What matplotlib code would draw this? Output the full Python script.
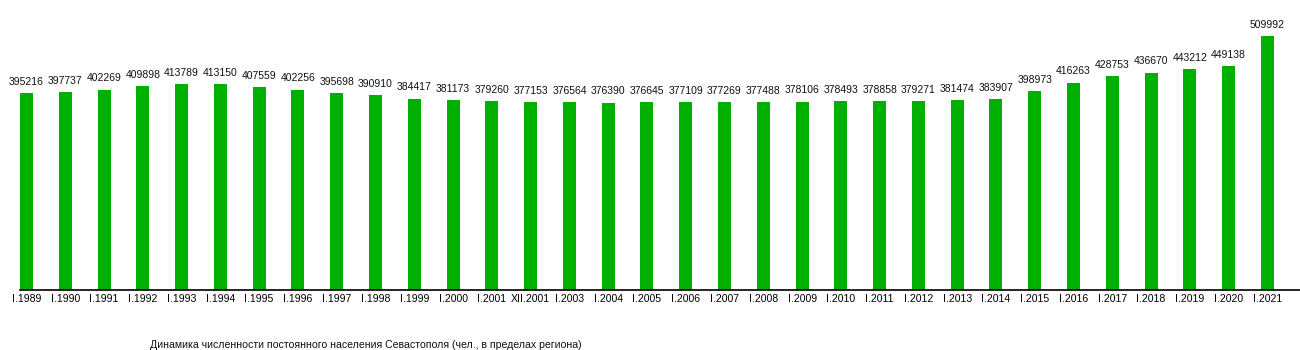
import matplotlib
matplotlib.use("Agg")
import matplotlib.pyplot as plt

labels = ["I.1989", "I.1990", "I.1991", "I.1992", "I.1993", "I.1994", "I.1995", "I.1996",
          "I.1997", "I.1998", "I.1999", "I.2000", "I.2001", "XII.2001", "I.2003", "I.2004",
          "I.2005", "I.2006", "I.2007", "I.2008", "I.2009", "I.2010", "I.2011", "I.2012",
          "I.2013", "I.2014", "I.2015", "I.2016", "I.2017", "I.2018", "I.2019", "I.2020", "I.2021"]
population = [395216, 397737, 402269, 409898, 413789, 413150, 407559, 402256,
              395698, 390910, 384417, 381173, 379260, 377153, 376564, 376390,
              376645, 377109, 377269, 377488, 378106, 378493, 378858, 379271,
              381474, 383907, 398973, 416263, 428753, 436670, 443212, 449138, 509992]
title = "Динамика численности постоянного населения Севастополя (чел., в пределах региона)"

plt.rcParams['font.family'] = ['Liberation Sans', 'DejaVu Sans']

W, H = 1300, 350
fig = plt.figure(figsize=(W / 100, H / 100), dpi=100)
ax = fig.add_axes([20 / W, (H - 290) / H, (1300 - 20) / W, 290 / H])

x = list(range(len(population)))
ax.bar(x, population, width=0.335, color="#00b000")
for xi, v in zip(x, population):
    ax.annotate(str(v), (xi, v), xytext=(0, 4.5), textcoords="offset points",
                ha="center", va="bottom", fontsize=7.5, color="#111111")

ax.set_xlim(-0.168, 32.84)
ax.set_ylim(0, 509992 * 290 / 254)
ax.set_xticks(x)
ax.set_xticklabels(labels, fontsize=7.6)
ax.tick_params(axis="x", length=0, pad=3)
ax.set_yticks([])
for s in ["top", "right", "left"]:
    ax.spines[s].set_visible(False)
ax.spines["bottom"].set_linewidth(1.2)
ax.spines["bottom"].set_color("black")

fig.text(150 / W, 1 - 345 / H, title, fontsize=7.6, ha="left", va="center", color="#111111")

fig.savefig("out.png", dpi=100, facecolor="white")
